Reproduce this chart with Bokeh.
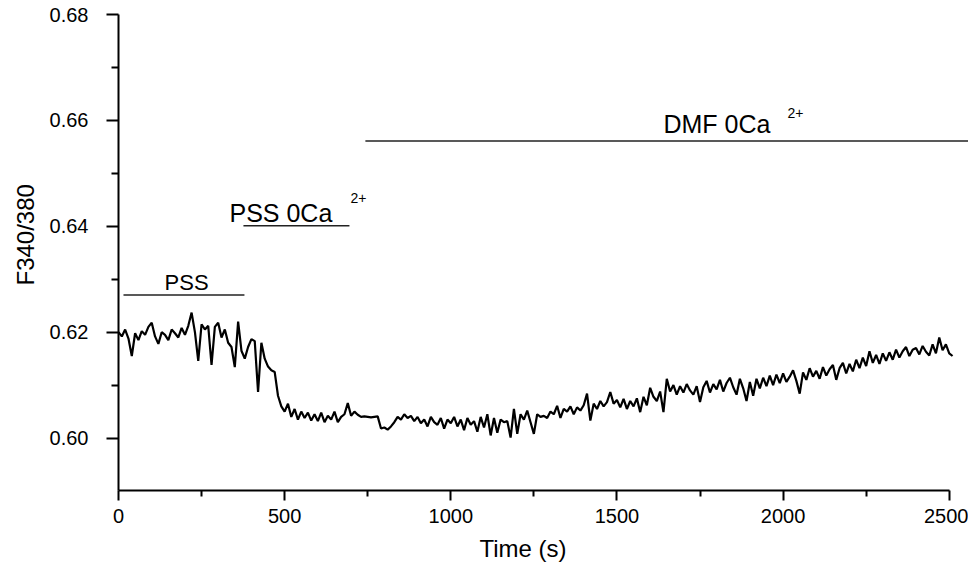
from bokeh.plotting import figure
from bokeh.models import Range1d, FixedTicker, NumeralTickFormatter, ColumnDataSource, Title
from bokeh.core.properties import value
from bokeh.embed import file_html
from bokeh.resources import INLINE

# ---- data: Fura-2 ratio trace, sampled every 10 s ----
time_s = list(range(0, 2520, 10))
ratio = [
    0.6200, 0.6192, 0.6205, 0.6188, 0.6155, 0.6198, 0.6185, 0.6202, 0.6195, 0.6210,
    0.6218, 0.6192, 0.6178, 0.6200, 0.6195, 0.6185, 0.6205, 0.6198, 0.6190, 0.6208,
    0.6195, 0.6212, 0.6237, 0.6200, 0.6146, 0.6215, 0.6205, 0.6212, 0.6138, 0.6210,
    0.6218, 0.6190, 0.6205, 0.6180, 0.6172, 0.6134, 0.6220, 0.6165, 0.6150, 0.6172,
    0.6187, 0.6183, 0.6087, 0.6180, 0.6150, 0.6135, 0.6128, 0.6125, 0.6080, 0.6060,
    0.6050, 0.6065, 0.6040, 0.6055, 0.6035, 0.6050, 0.6038, 0.6048, 0.6033, 0.6045,
    0.6032, 0.6048, 0.6030, 0.6042, 0.6035, 0.6050, 0.6030, 0.6040, 0.6045, 0.6066,
    0.6042, 0.6050, 0.6044, 0.6040, 0.6041, 0.6040, 0.6039, 0.6040, 0.6041, 0.6018,
    0.6020, 0.6016, 0.6022, 0.6030, 0.6040, 0.6035, 0.6045, 0.6038, 0.6042, 0.6032,
    0.6040, 0.6028, 0.6035, 0.6022, 0.6040, 0.6030, 0.6025, 0.6038, 0.6018, 0.6035,
    0.6028, 0.6040, 0.6022, 0.6035, 0.6015, 0.6038, 0.6025, 0.6032, 0.6012, 0.6040,
    0.6020, 0.6045, 0.6005, 0.6038, 0.6010, 0.6035, 0.6030, 0.6032, 0.6001, 0.6055,
    0.6008, 0.6045, 0.6035, 0.6052, 0.6030, 0.6008, 0.6045, 0.6040, 0.6042, 0.6038,
    0.6050, 0.6045, 0.6061, 0.6038, 0.6055, 0.6050, 0.6060, 0.6045, 0.6058, 0.6052,
    0.6062, 0.6084, 0.6033, 0.6065, 0.6055, 0.6070, 0.6060, 0.6068, 0.6087, 0.6065,
    0.6072, 0.6058, 0.6074, 0.6055, 0.6070, 0.6060, 0.6075, 0.6049, 0.6078, 0.6062,
    0.6095, 0.6078, 0.6070, 0.6088, 0.6049, 0.6112, 0.6088, 0.6100, 0.6082, 0.6098,
    0.6086, 0.6102, 0.6090, 0.6082, 0.6098, 0.6068, 0.6096, 0.6108, 0.6086, 0.6102,
    0.6092, 0.6110, 0.6088, 0.6104, 0.6114, 0.6096, 0.6082, 0.6112, 0.6094, 0.6070,
    0.6106, 0.6080, 0.6112, 0.6094, 0.6114, 0.6098, 0.6118, 0.6100, 0.6120, 0.6104,
    0.6122, 0.6106, 0.6116, 0.6128, 0.6108, 0.6084, 0.6124, 0.6110, 0.6132, 0.6116,
    0.6127, 0.6112, 0.6134, 0.6118, 0.6130, 0.6138, 0.6110, 0.6132, 0.6142, 0.6122,
    0.6140, 0.6126, 0.6148, 0.6132, 0.6152, 0.6136, 0.6164, 0.6142, 0.6157, 0.6140,
    0.6160, 0.6146, 0.6162, 0.6148, 0.6167, 0.6152, 0.6164, 0.6172, 0.6155, 0.6167,
    0.6170, 0.6158, 0.6174, 0.6163, 0.6156, 0.6177, 0.6160, 0.6190, 0.6166, 0.6177,
    0.6160, 0.6155,
]

# ---- solution periods (annotation bars) ----
period_labels = ["PSS", "PSS 0Ca", "DMF 0Ca"]
period_start = [15, 376, 743]
period_end = [379, 695, 2600]
period_level = [0.6270, 0.6401, 0.6561]
label_x = [205, 334, 1640]
label_y = [0.6279, 0.64087, 0.65755]
sup_text = ["2+", "2+"]
sup_x = [698, 2013]
sup_y = [0.64444, 0.66043]

x_ticks = [0, 500, 1000, 1500, 2000, 2500]
x_minor = [250, 750, 1250, 1750, 2250]
y_ticks = [0.60, 0.62, 0.64, 0.66, 0.68]
y_minor = [0.61, 0.63, 0.65, 0.67]

x_title = "Time (s)"
y_title = "F340/380"

FONT = "Liberation Sans"

p = figure(width=968, height=569,
           x_range=Range1d(0, 2558), y_range=Range1d(0.5901, 0.68),
           output_backend="svg", toolbar_location=None,
           min_border_left=118, min_border_right=0,
           min_border_top=14, min_border_bottom=77)
p.outline_line_color = None
p.grid.visible = False
p.background_fill_color = "white"
p.border_fill_color = "white"

p.xaxis.ticker = FixedTicker(ticks=x_ticks, minor_ticks=x_minor)
p.yaxis.ticker = FixedTicker(ticks=y_ticks, minor_ticks=y_minor)
p.xaxis.formatter = NumeralTickFormatter(format="0")
p.yaxis.formatter = NumeralTickFormatter(format="0.00")
p.xaxis.bounds = (0, 2500)

for ax in (p.xaxis[0], p.yaxis[0]):
    ax.axis_line_width = 2
    ax.axis_line_color = "black"
    ax.major_tick_line_width = 2
    ax.minor_tick_line_width = 2
    ax.major_tick_line_color = "black"
    ax.minor_tick_line_color = "black"
    ax.major_tick_in = 0
    ax.minor_tick_in = 0
    ax.major_label_text_font = FONT
    ax.major_label_text_font_size = "20px"
    ax.major_label_text_color = "black"

p.xaxis.major_tick_out = 10
p.xaxis.minor_tick_out = 6
p.yaxis.major_tick_out = 12
p.yaxis.minor_tick_out = 7
p.xaxis.major_label_standoff = 8
p.yaxis.major_label_standoff = 18

# axis titles as side titles (left-aligned with a pixel offset)
p.add_layout(Title(text=x_title, align="left", offset=361, standoff=15,
                   text_font=FONT, text_font_size="24px", text_font_style="normal",
                   text_color="black"), "below")
p.add_layout(Title(text=y_title, align="left", offset=205, standoff=15,
                   text_font=FONT, text_font_size="24px", text_font_style="normal",
                   text_color="black"), "left")

# trace
p.line(time_s, ratio, line_color="black", line_width=2.2)

# period bars
seg = ColumnDataSource(dict(x0=period_start, x1=period_end, y=period_level))
p.segment(x0="x0", y0="y", x1="x1", y1="y", source=seg, line_color="#222222", line_width=1.5)

# period labels
p.text(x=[label_x[0]], y=[label_y[0]], text=[period_labels[0]], text_font=value(FONT),
       text_font_size="22px", text_align="center", text_baseline="alphabetic",
       text_color="black", y_offset=-8)
p.text(x=label_x[1:], y=label_y[1:], text=period_labels[1:], text_font=value(FONT),
       text_font_size="25px", text_align="left", text_baseline="alphabetic",
       text_color="black", y_offset=-9)
p.text(x=sup_x, y=sup_y, text=sup_text, text_font=value(FONT),
       text_font_size="14px", text_align="left", text_baseline="alphabetic",
       text_color="black", y_offset=-5)

open("out.html", "w").write(file_html(p, INLINE))
